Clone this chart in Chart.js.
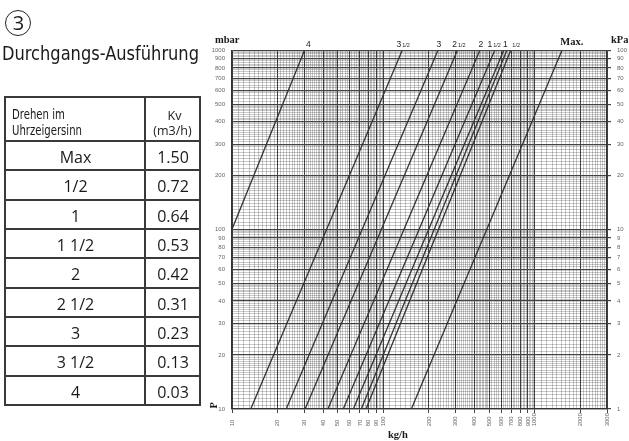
<!DOCTYPE html>
<html><head><meta charset="utf-8">
<script src="https://cdn.jsdelivr.net/npm/chart.js@4"></script>
<style>
html,body{margin:0;padding:0;background:#fff;width:629px;height:441px;overflow:hidden;position:relative;}
#c{position:absolute;left:0;top:0;}
.t{position:absolute;white-space:nowrap;line-height:1;color:#1a1a1a;transform-origin:left top;}
.cond{font-family:"Liberation Sans Narrow","DejaVu Sans Condensed","DejaVu Sans",sans-serif;font-stretch:condensed;}
.reg{font-family:"Open Sans","Noto Sans",sans-serif;}
.ln{position:absolute;background:#3a3a3a;}
#circ{position:absolute;left:5px;top:9.5px;width:26px;height:26px;border:1.4px solid #222;border-radius:50%;box-sizing:border-box;}
</style></head><body>
<canvas id="c" width="629" height="441"></canvas>
<div id="circ"></div>
<script>
// ---------- data ----------
const positions = ['Max', '1/2', '1', '1 1/2', '2', '2 1/2', '3', '3 1/2', '4'];
const kvValues = ['1.50', '0.72', '0.64', '0.53', '0.42', '0.31', '0.23', '0.13', '0.03'];
const seriesLabels = ['4', '3 1/2', '3', '2 1/2', '2', '1 1/2', '', '1', '1/2', 'Max.'];
const flowAt10mbar = [3.3, 13.3, 22.8, 30.4, 43.0, 54.3, 63.3, 71.5, 76.8, 153];
const flowAt1000mbar = [30.1, 133, 229, 308, 433, 543, 623, 653, 693, 1510];
const pressureEnds = [10, 1000];
const xTickLabels = [10, 20, 30, 40, 50, 60, 70, 80, 90, 100, 200, 300, 400, 500, 600, 700, 800, 900, 1000, 2000, 3000];
const mbarTickLabels = [10, 20, 30, 40, 50, 60, 70, 80, 90, 100, 200, 300, 400, 500, 600, 700, 800, 900, 1000];
const kPaTickLabels = [1, 2, 3, 4, 5, 6, 7, 8, 9, 10, 20, 30, 40, 50, 60, 70, 80, 90, 100];

// ---------- styles ----------
const labelDx = [4, 1, 1, 1.5, 1, -0.5, 0, -1.5, 5.5, 10];
const MAJOR = '#444', MINOR = 'rgba(0,0,0,0.36)';

function gridValues(min, max, steps) {
  const out = [];
  for (let e = Math.floor(Math.log10(min)); Math.pow(10, e) <= max; e++) {
    const d = Math.pow(10, e);
    for (const [a, b, s] of steps) {
      const n = Math.round((b - a) / s);
      for (let k = 0; k < n; k++) {
        const v = +((a + k * s) * d).toPrecision(6);
        if (v >= min && v <= max) out.push(v);
      }
    }
  }
  if (!out.includes(max)) out.push(max);
  return out;
}
function isMajor(v) {
  const m = v / Math.pow(10, Math.floor(Math.log10(v) + 1e-9));
  return Math.abs(m - Math.round(m)) < 1e-6;
}
const xGrid = gridValues(xTickLabels[0], xTickLabels[xTickLabels.length - 1], [[1, 5, 0.1], [5, 10, 0.2]]);
const yGrid = gridValues(mbarTickLabels[0], mbarTickLabels[mbarTickLabels.length - 1], [[1, 2, 0.05], [2, 5, 0.1], [5, 10, 0.2]]);

Chart.defaults.font.family = '"Liberation Sans", Arial, sans-serif';

const datasets = flowAt10mbar.map((q, i) => ({
  label: seriesLabels[i] || 'x',
  data: [{x: q, y: pressureEnds[0]}, {x: flowAt1000mbar[i], y: pressureEnds[1]}],
  borderColor: '#333', borderWidth: 1.3, pointRadius: 0, yAxisID: 'y', tension: 0
}));

function drawLabel(ctx, text, cx, base, mainFont, fracFont) {
  const parts = text.split(' ');
  let main = '', frac = '';
  if (text.includes('/')) { frac = parts[parts.length - 1]; main = parts.length > 1 ? parts[0] : ''; }
  else main = text;
  ctx.font = mainFont; const w1 = main ? ctx.measureText(main).width : 0;
  ctx.font = fracFont; const w2 = frac ? ctx.measureText(frac).width + (main ? 1 : 0) : 0;
  let x0 = cx - (w1 + w2) / 2;
  ctx.textAlign = 'left'; ctx.textBaseline = 'alphabetic';
  if (main) { ctx.font = mainFont; ctx.fillText(main, x0, base); }
  if (frac) { ctx.font = fracFont; ctx.fillText(frac, x0 + w1 + (main ? 1 : 0), base); }
}

const textPlugin = {
  id: 'texts',
  afterDraw(chart) {
    const {ctx} = chart; const x = chart.scales.x;
    ctx.save();
    ctx.fillStyle = '#1a1a1a';
    seriesLabels.forEach((lab, i) => {
      if (!lab) return;
      const px = x.getPixelForValue(flowAt1000mbar[i]) + labelDx[i];
      if (lab === 'Max.') {
        ctx.font = 'bold 10.5px "Liberation Serif", serif';
        ctx.textAlign = 'center'; ctx.textBaseline = 'alphabetic';
        ctx.fillText(lab, px, 45);
      } else {
        drawLabel(ctx, lab, px, 47.3, '8.5px "Liberation Sans Narrow","Liberation Sans",sans-serif', '5.5px "Liberation Sans",sans-serif');
      }
    });
    ctx.font = 'bold 10.5px "Liberation Serif", serif';
    ctx.textAlign = 'left'; ctx.textBaseline = 'alphabetic';
    ctx.fillText('mbar', 215, 43.3);
    ctx.fillText('kPa', 611, 43.3);
    ctx.fillText('kg/h', 388, 438);
    ctx.translate(216.5, 408.5); ctx.rotate(-Math.PI / 2);
    ctx.fillText('P', 0, 0);
    ctx.restore();
  }
};

new Chart(document.getElementById('c'), {
  type: 'line',
  data: {datasets},
  options: {
    responsive: false, animation: false, devicePixelRatio: 1,
    layout: {padding: {top: 50.5, left: 0, right: 0, bottom: 0}},
    plugins: {legend: {display: false}, tooltip: {enabled: false}, title: {display: false}},
    scales: {
      x: {
        type: 'logarithmic', min: xTickLabels[0], max: xTickLabels[xTickLabels.length - 1],
        afterBuildTicks: s => { s.ticks = xGrid.map(v => ({value: v})); },
        afterFit: s => { s.height = 32; },
        grid: {
          color: c => isMajor(c.tick.value) ? MAJOR : MINOR,
          lineWidth: c => isMajor(c.tick.value) ? 1 : 0.6,
          tickLength: 4,
          tickColor: c => isMajor(c.tick.value) ? MAJOR : 'rgba(0,0,0,0)'
        },
        border: {color: '#333', width: 1.3},
        ticks: {
          autoSkip: false, maxRotation: 90, minRotation: 90, padding: 0,
          color: '#666', font: {size: 6},
          callback: v => xTickLabels.includes(v) ? String(v) + '\u2007'.repeat(4 - String(v).length) : ''
        }
      },
      y: {
        type: 'logarithmic', position: 'left', min: mbarTickLabels[0], max: mbarTickLabels[mbarTickLabels.length - 1],
        afterBuildTicks: s => { s.ticks = yGrid.map(v => ({value: v})); },
        afterFit: s => { s.width = 232; },
        grid: {
          color: c => isMajor(c.tick.value) ? MAJOR : MINOR,
          lineWidth: c => isMajor(c.tick.value) ? 1.2 : 0.6,
          tickLength: 4, tickColor: 'rgba(0,0,0,0)'
        },
        border: {color: '#333', width: 1.3},
        ticks: {
          autoSkip: false, padding: 3, color: '#666', font: {size: 6},
          callback: v => mbarTickLabels.includes(v) ? String(v) : ''
        }
      },
      y2: {
        type: 'logarithmic', position: 'right', min: kPaTickLabels[0], max: kPaTickLabels[kPaTickLabels.length - 1],
        afterBuildTicks: s => { s.ticks = kPaTickLabels.map(v => ({value: v})); },
        afterFit: s => { s.width = 22; },
        grid: {drawOnChartArea: false, tickLength: 4, tickColor: MAJOR, lineWidth: 1.2},
        border: {color: '#333', width: 1.3},
        ticks: {autoSkip: false, padding: 6, color: '#666', font: {size: 6}, callback: v => String(v)}
      }
    }
  },
  plugins: [textPlugin]
});

// ---------- left panel (HTML) ----------
function placeText(text, cls, font, x, baseline, align, fitWidth, sxOverride) {
  const d = document.createElement('div');
  d.className = 't ' + cls;
  d.style.font = font;
  if (cls === 'cond') d.style.fontStretch = 'condensed';
  d.style.left = '0px'; d.style.top = '0px';
  d.appendChild(document.createTextNode(text));
  const mk = document.createElement('span');
  mk.style.display = 'inline-block'; mk.style.width = '0'; mk.style.height = '0';
  d.appendChild(mk);
  document.body.appendChild(d);
  const b = mk.offsetTop;
  const w = d.getBoundingClientRect().width;
  let sx = sxOverride || 1;
  if (fitWidth) sx = fitWidth / w;
  d.style.transform = 'scaleX(' + sx + ')';
  const ww = w * sx;
  const left = align === 'center' ? x - ww / 2 : align === 'right' ? x - ww : x;
  d.style.left = left + 'px';
  d.style.top = (baseline - b) + 'px';
  return sx;
}
function line(x, y, w, h) {
  const d = document.createElement('div');
  d.className = 'ln';
  d.style.left = x + 'px'; d.style.top = y + 'px'; d.style.width = w + 'px'; d.style.height = h + 'px';
  document.body.appendChild(d);
}
// circled number
placeText('3', 'reg', '400 20px "Open Sans","Noto Sans",sans-serif', 18.5, 29.5, 'center');
// title
placeText('Durchgangs-Ausführung', 'cond', '19.5px "Liberation Sans Narrow","DejaVu Sans Condensed",sans-serif', 2, 60, 'left', 197);
// table geometry
const tL = 4, tR = 199, tC = 144, tT = 96, tH = 140, tB = 404, lw = 2;
const rowH = (tB - tH) / positions.length;
line(tL, tT, tR - tL + lw, lw);
line(tL, tT, lw, tB - tT + lw);
line(tR, tT, lw, tB - tT + lw);
line(tC, tT, lw, tB - tT + lw);
line(tL, tH, tR - tL + lw, lw);
for (let i = 1; i <= positions.length; i++) line(tL, Math.round(tH + i * rowH), tR - tL + lw, lw);
// header
const sxh = placeText('Uhrzeigersinn', 'cond', '14.5px "Liberation Sans Narrow","DejaVu Sans Condensed",sans-serif', 12, 134.5, 'left', 70);
placeText('Drehen im', 'cond', '14.5px "Liberation Sans Narrow","DejaVu Sans Condensed",sans-serif', 12, 119, 'left', null, sxh);
placeText('Kv', 'reg', '12.5px "Open Sans","Noto Sans",sans-serif', 174.5, 120, 'center');
placeText('(m3/h)', 'reg', '12.5px "Open Sans","Noto Sans",sans-serif', 172.5, 134.5, 'center');
// rows
positions.forEach((p, i) => {
  const cy = tH + (i + 0.5) * rowH + 2.5;
  const base = cy + 5.7;
  placeText(p, 'reg', '16px "Open Sans","Noto Sans",sans-serif', 75.5, base, 'center');
  placeText(kvValues[i], 'reg', '16px "Open Sans","Noto Sans",sans-serif', 173, base, 'center');
});
</script>
</body></html>
